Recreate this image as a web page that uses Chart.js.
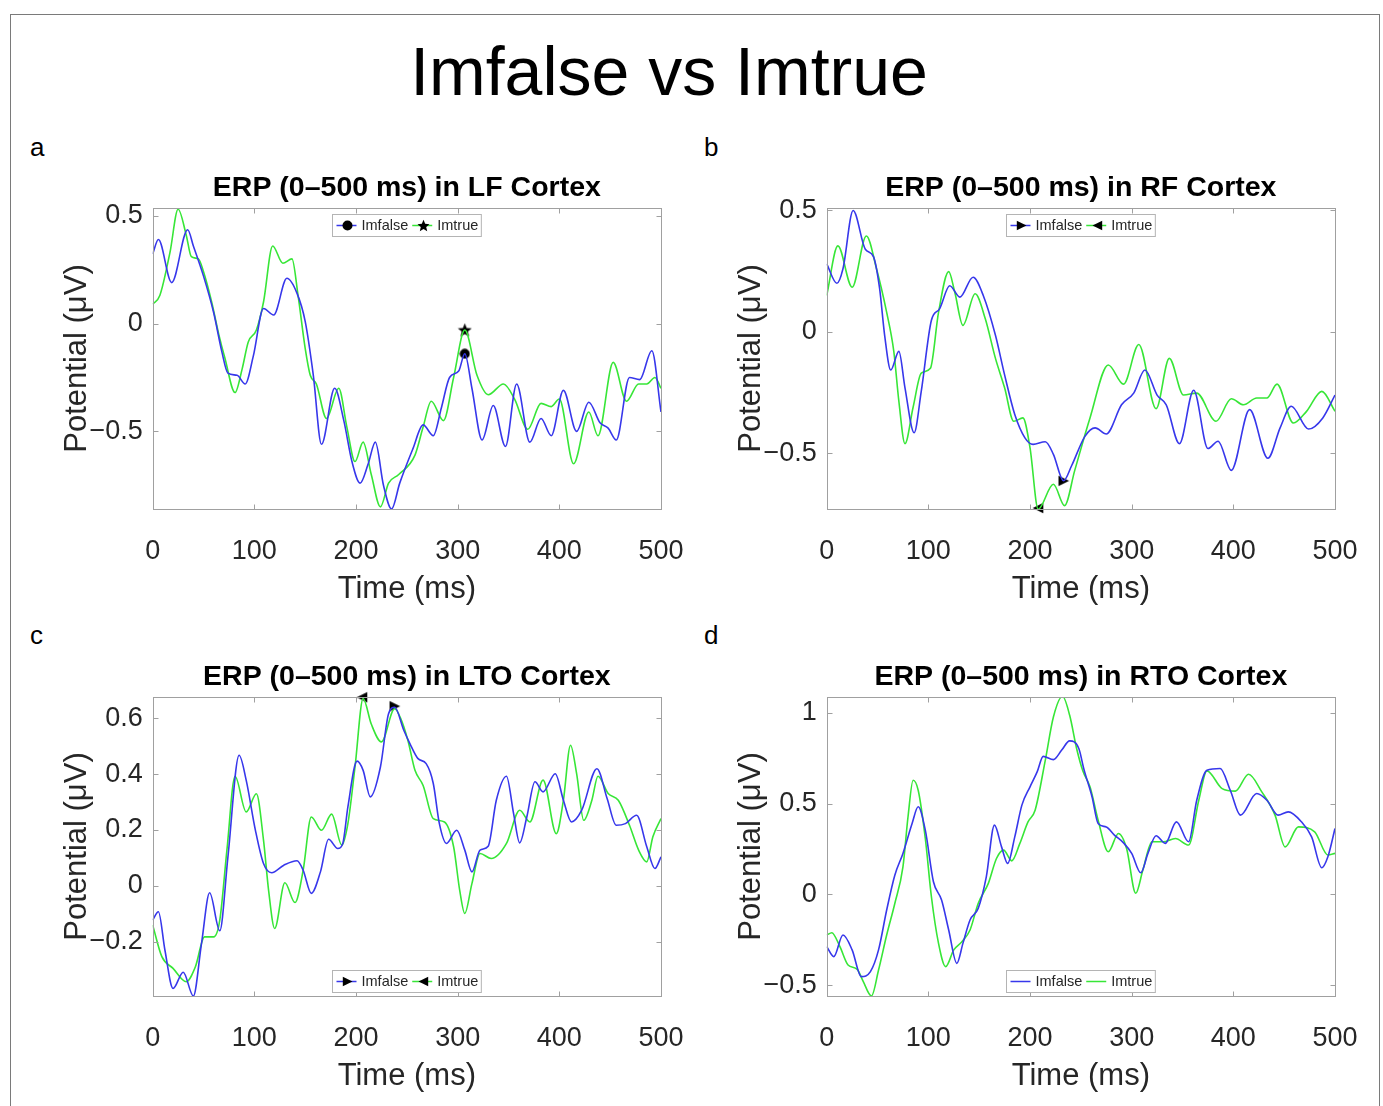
<!DOCTYPE html>
<html><head><meta charset="utf-8">
<script src="https://cdn.jsdelivr.net/npm/chart.js@4.4.1/dist/chart.umd.min.js"></script>
<style>
html,body{margin:0;padding:0;background:#fff;}
body{width:1383px;height:1106px;position:relative;overflow:hidden;font-family:"Liberation Sans",Arial,Helvetica,sans-serif;}
#frame{position:absolute;left:10px;top:14px;width:1370px;height:1100px;border:1px solid #7a7a7a;box-sizing:border-box;}
.txt{position:absolute;line-height:1;white-space:nowrap;color:#000;}
canvas{position:absolute;}
</style></head><body>
<div id="frame"></div>
<div class="txt" style="font-size:68px;left:669px;top:37px;transform:translateX(-50%);">Imfalse vs Imtrue</div>
<div class="txt" style="font-size:26px;left:30px;top:134px;">a</div>
<div class="txt" style="font-size:26px;left:704px;top:134px;">b</div>
<div class="txt" style="font-size:26px;left:30px;top:622px;">c</div>
<div class="txt" style="font-size:26px;left:704px;top:622px;">d</div>
<canvas id="cA" width="661" height="450" style="left:50px;top:160px;width:661px;height:450px"></canvas>
<canvas id="cB" width="661" height="450" style="left:724px;top:160px;width:661px;height:450px"></canvas>
<canvas id="cC" width="661" height="448" style="left:50px;top:649px;width:661px;height:448px"></canvas>
<canvas id="cD" width="661" height="448" style="left:724px;top:649px;width:661px;height:448px"></canvas>
<script>
// ---------------- data (time in ms, potential in µV) ----------------
const seriesNames = ['Imfalse', 'Imtrue'];
const timeTicks = [0, 100, 200, 300, 400, 500];
const timeTickLabels = ['0', '100', '200', '300', '400', '500'];

const lfFalse = [[0,0.323],[5.6,0.39],[18.7,0.19],[34.4,0.435],[40,0.36],[50,0.22],[60,0.05],[68,-0.13],[74,-0.23],[83,-0.24],[91,-0.28],[99,-0.15],[109,0.07],[119,0.04],[132,0.21],[142,0.14],[150,0.01],[158,-0.24],[166,-0.56],[179,-0.30],[188,-0.45],[196,-0.64],[204,-0.74],[212,-0.65],[219,-0.55],[227,-0.75],[235,-0.86],[243,-0.74],[256,-0.58],[266,-0.47],[276,-0.52],[284,-0.39],[292,-0.25],[301,-0.22],[307,-0.14],[314,-0.30],[324,-0.54],[335,-0.38],[347,-0.57],[358,-0.28],[371,-0.55],[382,-0.44],[392,-0.52],[404,-0.31],[417,-0.50],[429,-0.365],[440,-0.46],[448,-0.485],[456,-0.54],[469,-0.25],[479,-0.26],[491,-0.126],[500,-0.41]];
const lfTrue = [[0,0.09],[7,0.13],[17,0.33],[25,0.53],[33,0.41],[38,0.31],[45,0.30],[50,0.24],[58,0.10],[65,-0.05],[71,-0.16],[81,-0.32],[88,-0.21],[94,-0.085],[102,-0.03],[109,0.10],[118,0.36],[128,0.28],[137,0.30],[143,0.13],[150,-0.115],[155,-0.24],[161,-0.28],[171,-0.44],[183,-0.30],[191,-0.48],[199,-0.64],[207,-0.55],[215,-0.70],[224,-0.85],[232,-0.74],[242,-0.70],[258,-0.61],[266,-0.48],[274,-0.36],[286,-0.45],[296,-0.25],[307,-0.03],[319,-0.24],[330,-0.33],[345,-0.28],[356,-0.35],[369,-0.49],[382,-0.37],[392,-0.385],[400,-0.35],[414,-0.65],[429,-0.41],[438,-0.52],[453,-0.18],[466,-0.36],[478,-0.28],[486,-0.28],[494,-0.25],[500,-0.30]];
const lfFalseMark = [307, -0.14];
const lfTrueMark = [307, -0.03];
const lfTicks = [-0.5, 0, 0.5];
const lfTickLabels = ['\u22120.5', '0', '0.5'];
const lfRange = [-0.86, 0.536];

const rfFalse = [[0,0.28],[10,0.20],[16,0.26],[26,0.50],[38,0.34],[46,0.31],[52,0.18],[57,-0.014],[63,-0.157],[71,-0.08],[77,-0.23],[86,-0.415],[93,-0.245],[103,0.048],[111,0.095],[121,0.19],[131,0.143],[144,0.225],[154,0.15],[166,-0.014],[175,-0.177],[185,-0.34],[195,-0.436],[203,-0.463],[215,-0.452],[223,-0.504],[233,-0.613],[241,-0.55],[254,-0.43],[264,-0.395],[275,-0.42],[290,-0.30],[302,-0.252],[313,-0.157],[325,-0.26],[334,-0.30],[347,-0.46],[361,-0.24],[375,-0.48],[385,-0.45],[398,-0.57],[416,-0.32],[434,-0.52],[446,-0.395],[457,-0.306],[474,-0.40],[488,-0.354],[500,-0.26]];
const rfTrue = [[0,0.15],[11,0.354],[25,0.184],[39,0.395],[49,0.26],[59,0.08],[66,-0.08],[71,-0.286],[77,-0.46],[85,-0.31],[93,-0.17],[102,-0.15],[110,0.08],[120,0.248],[126,0.163],[134,0.027],[146,0.157],[156,0.054],[166,-0.109],[175,-0.23],[184,-0.368],[193,-0.354],[200,-0.477],[208,-0.73],[223,-0.627],[234,-0.715],[244,-0.57],[259,-0.354],[277,-0.136],[292,-0.215],[307,-0.052],[324,-0.316],[337,-0.109],[351,-0.26],[364,-0.252],[383,-0.368],[398,-0.275],[410,-0.30],[423,-0.272],[433,-0.272],[443,-0.215],[459,-0.375],[472,-0.327],[487,-0.245],[500,-0.327]];
const rfFalseMark = [233, -0.613];
const rfTrueMark = [208, -0.725];
const rfTicks = [-0.5, 0, 0.5];
const rfTickLabels = ['\u22120.5', '0', '0.5'];
const rfRange = [-0.729, 0.51];

const ltoFalse = [[0,-0.123],[5.6,-0.093],[12,-0.23],[20,-0.368],[30,-0.31],[40,-0.395],[48,-0.207],[56,-0.025],[66,-0.161],[74,0.104],[85,0.468],[92,0.378],[101,0.20],[109,0.08],[117,0.047],[129,0.074],[142,0.09],[148,0.056],[156,-0.027],[165,0.05],[173,0.167],[182,0.134],[187,0.152],[192,0.283],[201,0.447],[207,0.414],[214,0.319],[224,0.426],[232,0.617],[238,0.64],[247,0.558],[253,0.51],[261,0.456],[269,0.438],[276,0.367],[282,0.223],[289,0.152],[299,0.199],[307,0.128],[314,0.05],[322,0.128],[330,0.142],[338,0.307],[348,0.393],[355,0.259],[361,0.154],[368,0.247],[376,0.373],[384,0.337],[396,0.402],[404,0.307],[412,0.229],[422,0.271],[437,0.42],[447,0.313],[456,0.217],[465,0.223],[476,0.253],[486,0.14],[494,0.062],[500,0.104]];
const ltoTrue = [[0,-0.141],[9,-0.254],[20,-0.296],[33,-0.344],[42,-0.29],[51,-0.183],[60,-0.183],[66,-0.123],[73,0.128],[81,0.393],[92,0.265],[102,0.33],[109,0.164],[114,-0.016],[120,-0.153],[130,0.011],[140,-0.06],[148,0.056],[156,0.247],[166,0.199],[176,0.257],[186,0.146],[192,0.223],[199,0.426],[207,0.671],[215,0.58],[225,0.516],[238,0.635],[244,0.6],[251,0.522],[258,0.414],[266,0.36],[276,0.241],[287,0.229],[296,0.14],[302,-0.016],[307,-0.099],[314,0.008],[322,0.116],[333,0.098],[348,0.152],[361,0.271],[371,0.229],[384,0.379],[397,0.187],[404,0.307],[411,0.504],[417,0.402],[424,0.235],[432,0.307],[438,0.393],[448,0.331],[458,0.307],[469,0.217],[478,0.128],[486,0.086],[492,0.176],[500,0.241]];
const ltoFalseMark = [238, 0.644];
const ltoTrueMark = [206, 0.676];
const ltoTicks = [-0.2, 0, 0.2, 0.4, 0.6];
const ltoTickLabels = ['\u22120.2', '0', '0.2', '0.4', '0.6'];
const ltoRange = [-0.395, 0.677];

const rtoFalse = [[0,-0.288],[7,-0.343],[16,-0.224],[25,-0.306],[34,-0.453],[43,-0.426],[51,-0.306],[59,-0.086],[67,0.106],[75,0.226],[84,0.391],[90,0.483],[97,0.354],[105,0.07],[113,-0.031],[120,-0.196],[128,-0.38],[134,-0.27],[141,-0.141],[149,-0.077],[157,0.097],[165,0.382],[172,0.262],[178,0.171],[185,0.317],[192,0.492],[200,0.593],[207,0.675],[213,0.761],[223,0.743],[231,0.794],[239,0.846],[248,0.804],[253,0.69],[261,0.538],[267,0.391],[275,0.372],[283,0.327],[292,0.284],[300,0.226],[309,0.119],[316,0.226],[324,0.323],[333,0.281],[344,0.4],[356,0.29],[364,0.519],[374,0.684],[387,0.694],[397,0.574],[407,0.437],[423,0.556],[433,0.519],[444,0.437],[454,0.455],[467,0.4],[477,0.317],[487,0.147],[493,0.207],[500,0.363]];
const rtoTrue = [[0,-0.224],[5,-0.211],[13,-0.288],[21,-0.389],[30,-0.413],[36,-0.481],[44,-0.56],[51,-0.417],[59,-0.224],[67,-0.05],[75,0.152],[80,0.428],[85,0.629],[90,0.574],[97,0.308],[103,-0.013],[110,-0.27],[117,-0.398],[125,-0.306],[133,-0.261],[141,-0.196],[149,-0.05],[159,0.061],[167,0.198],[174,0.244],[182,0.185],[190,0.281],[198,0.4],[205,0.464],[215,0.739],[223,0.978],[232,1.092],[239,0.987],[246,0.8],[252,0.68],[259,0.593],[267,0.409],[277,0.235],[287,0.336],[295,0.253],[304,0.006],[311,0.134],[320,0.29],[331,0.29],[343,0.308],[356,0.272],[366,0.519],[374,0.681],[389,0.583],[402,0.569],[415,0.662],[428,0.565],[441,0.437],[451,0.262],[464,0.372],[480,0.345],[493,0.217],[500,0.226]];
const rtoTicks = [-0.5, 0, 0.5, 1];
const rtoTickLabels = ['\u22120.5', '0', '0.5', '1'];
const rtoRange = [-0.56, 1.088];

// ---------------- styling ----------------
const FAMILY = '"Liberation Sans", Arial, Helvetica, sans-serif';
const BLUE = 'rgb(55,55,235)';
const GREEN = 'rgb(55,230,55)';
const FRAME = '#a0a0a0';
const TEXT = '#262626';

function markerCanvas(type, s) {
  const c = document.createElement('canvas');
  c.width = s; c.height = s;
  const g = c.getContext('2d');
  g.fillStyle = '#000';
  g.beginPath();
  const m = s / 2;
  if (type === 'circle') {
    g.arc(m, m, m - 0.5, 0, Math.PI * 2);
  } else if (type === 'star') {
    const R = m - 0.2, r = R * 0.45;
    for (let i = 0; i < 10; i++) {
      const rr = i % 2 ? r : R;
      const ang = -Math.PI / 2 + i * Math.PI / 5;
      g.lineTo(m + rr * Math.cos(ang), m + 0.6 + rr * Math.sin(ang));
    }
    g.closePath();
  } else if (type === 'tri-right') {
    g.moveTo(s - 0.5, m); g.lineTo(0.8, 0.8); g.lineTo(0.8, s - 0.8); g.closePath();
  } else if (type === 'tri-left') {
    g.moveTo(0.5, m); g.lineTo(s - 0.8, 0.8); g.lineTo(s - 0.8, s - 0.8); g.closePath();
  }
  g.fill();
  return c;
}

const matlabFrame = {
  id: 'matlabFrame',
  afterDatasetsDraw(chart, args, opts) {
    const {ctx, chartArea: a, scales} = chart;
    ctx.save();
    ctx.strokeStyle = FRAME;
    ctx.lineWidth = 1;
    const L = Math.round(a.left) + 0.5, R = Math.round(a.right) + 0.5;
    const T = Math.round(a.top) + 0.5, B = Math.round(a.bottom) + 0.5;
    ctx.strokeRect(L, T, R - L, B - T);
    const tl = 5;
    ctx.beginPath();
    scales.x.ticks.forEach(t => {
      const px = Math.round(scales.x.getPixelForValue(t.value)) + 0.5;
      ctx.moveTo(px, B); ctx.lineTo(px, B - tl);
      ctx.moveTo(px, T); ctx.lineTo(px, T + tl);
    });
    scales.y.ticks.forEach(t => {
      const py = Math.round(scales.y.getPixelForValue(t.value)) + 0.5;
      ctx.moveTo(L, py); ctx.lineTo(L + tl, py);
      ctx.moveTo(R, py); ctx.lineTo(R - tl, py);
    });
    ctx.stroke();

    // legend inside the axes
    const items = opts.items || [];
    if (items.length) {
      ctx.font = '14.5px ' + FAMILY;
      const lineLen = 20, padL = 4, padR = 3, gapText = 5, gapItem = 4, h = 22;
      const widths = items.map(it => lineLen + gapText + ctx.measureText(it.label).width);
      const total = padL + widths.reduce((s, w) => s + w, 0) + gapItem * (items.length - 1) + padR;
      const x0 = Math.round((a.left + a.right) / 2 - total / 2) + 0.5;
      const y0 = Math.round(opts.position === 'top' ? a.top + 6 : a.bottom - 4 - h) + 0.5;
      ctx.fillStyle = '#fff';
      ctx.fillRect(x0, y0, total, h);
      ctx.strokeStyle = '#b4b4b4';
      ctx.strokeRect(x0, y0, total, h);
      let x = x0 + padL;
      const cy = y0 + h / 2;
      items.forEach((it, i) => {
        ctx.strokeStyle = it.color;
        ctx.lineWidth = 1.5;
        ctx.beginPath(); ctx.moveTo(x, cy); ctx.lineTo(x + lineLen, cy); ctx.stroke();
        if (it.marker) {
          const ms = it.marker === 'star' ? 13 : 11;
          const img = markerCanvas(it.marker, ms);
          ctx.drawImage(img, Math.round(x + lineLen / 2 - ms / 2 + 1), Math.round(cy - ms / 2));
        }
        ctx.fillStyle = TEXT;
        ctx.textBaseline = 'middle';
        ctx.textAlign = 'left';
        ctx.fillText(it.label, x + lineLen + gapText, cy + 0.5);
        x += widths[i] + gapItem;
      });
    }
    ctx.restore();
  }
};

const toXY = arr => arr.map(p => ({x: p[0], y: p[1]}));

function makeChart(id, cfg) {
  const datasets = [
    {label: seriesNames[0], data: toXY(cfg.falseData), borderColor: BLUE, borderWidth: 1.6,
     pointRadius: 0, cubicInterpolationMode: 'monotone', tension: 0.4, fill: false},
    {label: seriesNames[1], data: toXY(cfg.trueData), borderColor: GREEN, borderWidth: 1.6,
     pointRadius: 0, cubicInterpolationMode: 'monotone', tension: 0.4, fill: false}
  ];
  (cfg.marks || []).forEach(m => {
    datasets.push({label: m.label + ' marker', data: [{x: m.pt[0], y: m.pt[1]}], showLine: false,
      pointStyle: markerCanvas(m.marker, m.size), pointRadius: 6, clip: false,
      borderColor: '#000', backgroundColor: '#000'});
  });
  return new Chart(document.getElementById(id), {
    type: 'line',
    data: {datasets},
    options: {
      responsive: false, animation: false, devicePixelRatio: 1,
      layout: {padding: {left: 0, right: 50, top: 0, bottom: 0}},
      events: [],
      plugins: {
        legend: {display: false},
        tooltip: {enabled: false},
        title: {display: true, text: cfg.title, fullSize: false, color: '#000',
          font: {size: 28.5, weight: 'bold', family: FAMILY, lineHeight: 1.2},
          padding: {top: 11.4, bottom: 2.4}},
        matlabFrame: {items: cfg.legend, position: cfg.legendPos}
      },
      scales: {
        x: {type: 'linear', min: 0, max: 500,
          grid: {display: false, drawTicks: false}, border: {display: false},
          afterBuildTicks: s => { s.ticks = timeTicks.map(v => ({value: v})); },
          ticks: {padding: 26.5, autoSkip: false, maxRotation: 0, color: TEXT,
            font: {size: 27, family: FAMILY, lineHeight: 1.2},
            callback: (v, i) => timeTickLabels[i]},
          title: {display: true, text: 'Time (ms)', color: TEXT,
            font: {size: 31, family: FAMILY, lineHeight: 1.2}, padding: {top: 0, bottom: 2.4}},
          afterFit: s => { s.height = 101; }
        },
        y: {type: 'linear', min: cfg.range[0], max: cfg.range[1],
          grid: {display: false, drawTicks: false}, border: {display: false},
          afterBuildTicks: s => { s.ticks = cfg.ticks.map(v => ({value: v})); },
          ticks: {padding: 10, color: TEXT, font: {size: 27, family: FAMILY, lineHeight: 1.2},
            callback: (v, i) => cfg.tickLabels[i]},
          title: {display: true, text: 'Potential (\u03bcV)', color: TEXT,
            font: {size: 31, family: FAMILY, lineHeight: 1.2}, padding: {top: 8.4, bottom: 0}},
          afterFit: s => { s.width = 102.7; }
        }
      }
    },
    plugins: [matlabFrame]
  });
}

makeChart('cA', {
  title: 'ERP (0\u2013500 ms) in LF Cortex', falseData: lfFalse, trueData: lfTrue,
  range: lfRange, ticks: lfTicks, tickLabels: lfTickLabels, legendPos: 'top',
  legend: [{label: seriesNames[0], color: BLUE, marker: 'circle'}, {label: seriesNames[1], color: GREEN, marker: 'star'}],
  marks: [{label: 'Imfalse', pt: lfFalseMark, marker: 'circle', size: 11}, {label: 'Imtrue', pt: lfTrueMark, marker: 'star', size: 15}]
});
makeChart('cB', {
  title: 'ERP (0\u2013500 ms) in RF Cortex', falseData: rfFalse, trueData: rfTrue,
  range: rfRange, ticks: rfTicks, tickLabels: rfTickLabels, legendPos: 'top',
  legend: [{label: seriesNames[0], color: BLUE, marker: 'tri-right'}, {label: seriesNames[1], color: GREEN, marker: 'tri-left'}],
  marks: [{label: 'Imfalse', pt: rfFalseMark, marker: 'tri-right', size: 12}, {label: 'Imtrue', pt: rfTrueMark, marker: 'tri-left', size: 12}]
});
makeChart('cC', {
  title: 'ERP (0\u2013500 ms) in LTO Cortex', falseData: ltoFalse, trueData: ltoTrue,
  range: ltoRange, ticks: ltoTicks, tickLabels: ltoTickLabels, legendPos: 'bottom',
  legend: [{label: seriesNames[0], color: BLUE, marker: 'tri-right'}, {label: seriesNames[1], color: GREEN, marker: 'tri-left'}],
  marks: [{label: 'Imfalse', pt: ltoFalseMark, marker: 'tri-right', size: 12}, {label: 'Imtrue', pt: ltoTrueMark, marker: 'tri-left', size: 12}]
});
makeChart('cD', {
  title: 'ERP (0\u2013500 ms) in RTO Cortex', falseData: rtoFalse, trueData: rtoTrue,
  range: rtoRange, ticks: rtoTicks, tickLabels: rtoTickLabels, legendPos: 'bottom',
  legend: [{label: seriesNames[0], color: BLUE}, {label: seriesNames[1], color: GREEN}],
  marks: []
});
</script>
</body></html>
